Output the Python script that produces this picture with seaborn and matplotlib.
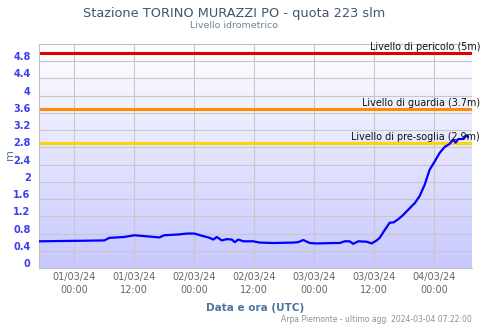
import numpy as np
import pandas as pd
import matplotlib
matplotlib.use("Agg")
import matplotlib.pyplot as plt
from matplotlib.transforms import ScaledTranslation, blended_transform_factory
import seaborn as sns

# ---- data ----
base = "2024-03-01 00:00"
hours = [-7, 0, 6, 7, 10, 12, 16, 17, 18, 21, 22.5, 24, 25.8, 27.1, 27.8, 28.5, 29.5,
         30.5, 31.5, 32.1, 32.8, 33.8, 35.8, 37.1, 39.8, 43.8, 44.8, 45.8, 47.1, 48.5,
         51.8, 53.1, 54.1, 55.1, 55.8, 56.8, 58.5, 59.5, 60.5, 61.1, 62.1, 63.1, 63.9,
         64.8, 65.8, 66.8, 67.8, 68.1, 69.1, 70.1, 71.1, 72.1, 73.1, 74.1, 75.1, 75.8,
         76.3, 76.8, 77.8, 78.5, 78.8]
levels = [0.62, 0.63, 0.64, 0.70, 0.72, 0.76, 0.72, 0.71, 0.76, 0.78, 0.80, 0.80, 0.74,
          0.70, 0.66, 0.72, 0.64, 0.67, 0.66, 0.60, 0.66, 0.62, 0.62, 0.59, 0.58, 0.59,
          0.60, 0.65, 0.58, 0.57, 0.58, 0.58, 0.62, 0.62, 0.56, 0.62, 0.61, 0.57, 0.64,
          0.70, 0.88, 1.05, 1.06, 1.13, 1.23, 1.35, 1.47, 1.50, 1.67, 1.93, 2.28, 2.47,
          2.67, 2.81, 2.88, 2.98, 2.91, 2.99, 3.00, 3.08, 3.04]

threshold_values = [5.0, 3.7, 2.9]
threshold_labels = ["Livello di pericolo (5m)", "Livello di guardia (3.7m)",
                    "Livello di pre-soglia (2.9m)"]
threshold_colors = ["#e00000", "#ff8c00", "#ffd700"]

y_ticks = [0, 0.4, 0.8, 1.2, 1.6, 2, 2.4, 2.8, 3.2, 3.6, 4, 4.4, 4.8]
x_tick_times = ["2024-03-01 00:00", "2024-03-01 12:00", "2024-03-02 00:00",
                "2024-03-02 12:00", "2024-03-03 00:00", "2024-03-03 12:00",
                "2024-03-04 00:00"]

title = "Stazione TORINO MURAZZI PO - quota 223 slm"
subtitle = "Livello idrometrico"
x_title = "Data e ora (UTC)"
y_title = "m"
credits = "Arpa Piemonte - ultimo agg. 2024-03-04 07:22:00"

df = pd.DataFrame({
    "time": pd.Timestamp(base) + pd.to_timedelta(hours, unit="h"),
    "level": levels,
})

# ---- figure ----
sns.set_style("white")
plt.rcParams["font.family"] = ["DejaVu Sans"]
fig = plt.figure(figsize=(5, 3.33), dpi=100)
pos = [39 / 500, 1 - 268 / 333, (472 - 39) / 500, (268 - 44) / 333]

# gradient background
bg = fig.add_axes(pos, zorder=0)
grad = np.linspace(1, 0, 256).reshape(-1, 1)
top = np.array([1.0, 1.0, 1.0])
bot = np.array([200, 200, 255]) / 255
img = top[None, None, :] * grad[..., None] + bot[None, None, :] * (1 - grad[..., None])
bg.imshow(img, aspect="auto", extent=[0, 1, 0, 1])
bg.axis("off")

ax = fig.add_axes(pos, zorder=1)
ax.patch.set_alpha(0)

xmin = pd.Timestamp("2024-02-29 16:55")
xmax = pd.Timestamp("2024-03-04 07:35")

for v, c in zip(threshold_values, threshold_colors):
    ax.axhline(v, color=c, lw=2.2, zorder=2)

sns.lineplot(data=df, x="time", y="level", ax=ax, color="#0000ff", lw=1.6, zorder=3)

ax.set_xlim(xmin, xmax)
ax.set_ylim(0, 5.2)
ax.set_yticks(y_ticks)
ax.set_yticklabels([f"{t:g}" for t in y_ticks])
xt = pd.to_datetime(x_tick_times)
ax.set_xticks(xt)
ax.set_xticklabels([t.strftime("%d/%m/%y\n%H:%M") for t in xt])

ax.grid(True, color="#c8c8c8", lw=0.8, zorder=1)
ax.set_axisbelow(True)
ax.tick_params(axis="both", length=0)
ax.tick_params(axis="y", labelsize=7, labelcolor="#3c3cf0", pad=6)
ax.tick_params(axis="x", labelsize=7, labelcolor="#666666", pad=3)
for lab in ax.get_yticklabels():
    lab.set_fontweight("bold")
    lab.set_transform(lab.get_transform() + ScaledTranslation(0, 0.05, fig.dpi_scale_trans))
for lab in ax.get_xticklabels():
    lab.set_linespacing(1.3)

for s in ["left", "top", "bottom"]:
    ax.spines[s].set_color("#c0c0c0")
    ax.spines[s].set_linewidth(0.8)
ax.spines["right"].set_visible(False)

ax.set_xlabel(x_title, color="#4d759e", fontsize=7.5, fontweight="bold", labelpad=6)
ax.set_ylabel("")
fig.text(10 / 500, 1 - 155 / 333, y_title, rotation=90, ha="center", va="center",
         color="#4d759e", fontsize=8)

# threshold labels
tr = blended_transform_factory(fig.transFigure, ax.transData)
for v, lab in zip(threshold_values, threshold_labels):
    ax.text(480 / 500, v + 0.02, lab, transform=tr, ha="right", va="bottom",
            fontsize=6.9, color="#111111", zorder=4)

fig.text(234 / 500, 1 - 13 / 333, title, ha="center", va="center",
         fontsize=9.3, color="#3e576f")
fig.text(234 / 500, 1 - 26 / 333, subtitle, ha="center", va="center",
         fontsize=6.8, color="#6d869f")
fig.text(472 / 500, 1 - 319 / 333, credits, ha="right", va="center",
         fontsize=5.5, color="#909090")

fig.savefig("out.png", dpi=100)
